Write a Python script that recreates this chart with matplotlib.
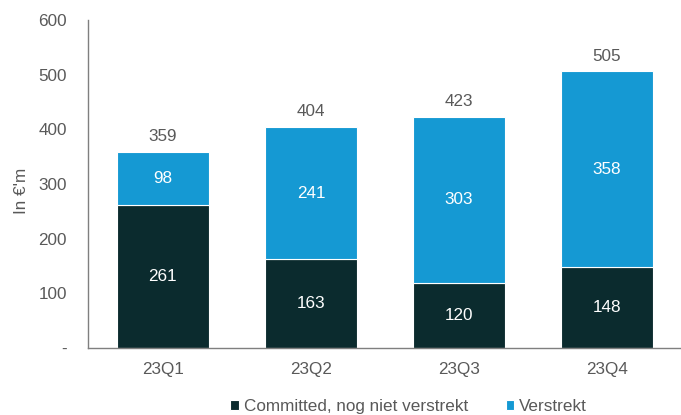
import matplotlib
matplotlib.use("Agg")
import matplotlib.pyplot as plt

quarters = ["23Q1", "23Q2", "23Q3", "23Q4"]
committed = [261, 163, 120, 148]
verstrekt = [98, 241, 303, 358]
totals = [359, 404, 423, 505]
yticks = [0, 100, 200, 300, 400, 500, 600]
ytick_labels = ["-", "100", "200", "300", "400", "500", "600"]

dark = "#0b2b2e"
light = "#1599d3"
gray = "#595959"

plt.rcParams['font.family'] = ['Liberation Sans', 'DejaVu Sans']
fs = 12.3

fig = plt.figure(figsize=(6.81, 4.15), dpi=100)
ax = fig.add_axes([0.129, 0.161, 0.871, 0.791])

x = list(range(len(quarters)))
w = 0.62
b1 = ax.bar(x, committed, width=w, color=dark, edgecolor="white", linewidth=0.8,
            label="Committed, nog niet verstrekt")
b2 = ax.bar(x, verstrekt, width=w, bottom=committed, color=light, edgecolor="white",
            linewidth=0.8, label="Verstrekt")

for i in x:
    ax.text(i, committed[i] / 2, str(committed[i]), ha="center", va="center",
            color="white", fontsize=fs)
    ax.text(i, committed[i] + verstrekt[i] / 2, str(verstrekt[i]), ha="center",
            va="center", color="white", fontsize=fs)
    ax.text(i, totals[i] + 15, str(totals[i]), ha="center", va="bottom",
            color=gray, fontsize=fs)

ax.set_xlim(-0.507, 3.5)
ax.set_ylim(0, 600)
ax.set_yticks(yticks)
ax.set_yticklabels(ytick_labels)
ax.set_xticks(x)
ax.set_xticklabels(quarters)
ax.tick_params(axis="both", length=0, colors=gray, labelsize=fs)
ax.tick_params(axis="y", pad=15)
ax.tick_params(axis="x", pad=10)
for s in ["top", "right"]:
    ax.spines[s].set_visible(False)
for s in ["left", "bottom"]:
    ax.spines[s].set_color("#7f7f7f")
    ax.spines[s].set_linewidth(1.0)
ax.set_ylabel("In €'m", color=gray, fontsize=fs)
ax.yaxis.set_label_coords(-0.1, 0.48)

fig.legend(handles=[b1, b2], loc="lower center", bbox_to_anchor=(0.6, -0.035),
           ncol=2, frameon=False, fontsize=fs, labelcolor=gray,
           handlelength=0.5, handleheight=0.5, handletextpad=0.3, columnspacing=2.2)

fig.savefig("out.png", dpi=100)
